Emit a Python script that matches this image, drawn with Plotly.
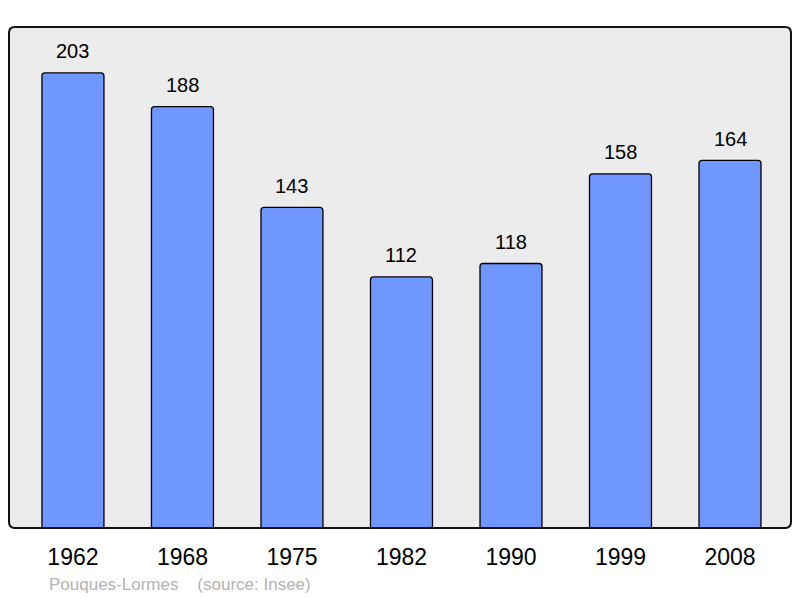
import plotly.graph_objects as go

years = ["1962", "1968", "1975", "1982", "1990", "1999", "2008"]
population = [203, 188, 143, 112, 118, 158, 164]
footer = "Pouques-Lormes&nbsp;&nbsp;&nbsp;&nbsp;(source: Insee)"

idx = list(range(len(years)))
FONT = "Liberation Sans, Arial, sans-serif"

fig = go.Figure()
fig.add_trace(go.Bar(
    x=idx, y=population, width=0.566,
    marker=dict(color="#7097ff", line=dict(color="#000000", width=1.3), cornerradius=3),
    hoverinfo="skip",
))

for i, v in zip(idx, population):
    fig.add_annotation(x=i, y=v, text=str(v), showarrow=False, yanchor="middle",
                       yshift=21.5, font=dict(family=FONT, size=20, color="#000"))

fig.add_annotation(xref="paper", yref="paper", x=(47 - 9) / 782, y=0, yshift=-56,
                   xanchor="left", yanchor="middle", text=footer, showarrow=False,
                   font=dict(family=FONT, size=17, color="#b3b3b3"))

# rounded frame
r = 6
W, H = 782, 501
rx, ry = r / W, r / H
path = (f"M {rx},0 L {1-rx},0 Q 1,0 1,{ry} L 1,{1-ry} Q 1,1 {1-rx},1 "
        f"L {rx},1 Q 0,1 0,{1-ry} L 0,{ry} Q 0,0 {rx},0 Z")
fig.add_shape(type="path", xref="paper", yref="paper", path=path,
              line=dict(color="#111111", width=2), layer="above")

fig.update_layout(
    width=800, height=598,
    margin=dict(l=9, r=9, t=27, b=70),
    paper_bgcolor="#ffffff", plot_bgcolor="#ececec",
    showlegend=False,
    xaxis=dict(range=[-0.584, 6.557], tickmode="array", tickvals=idx, ticktext=years,
               showgrid=False, zeroline=False, ticks="", ticklabelstandoff=13,
               tickfont=dict(family=FONT, size=23, color="#000")),
    yaxis=dict(range=[0, 223.5], showgrid=False, zeroline=False, showticklabels=False, ticks=""),
)

fig.write_html("out.html", config={"displayModeBar": False, "staticPlot": True},
               post_script="document.body.style.margin='0';document.body.style.overflow='hidden';")
